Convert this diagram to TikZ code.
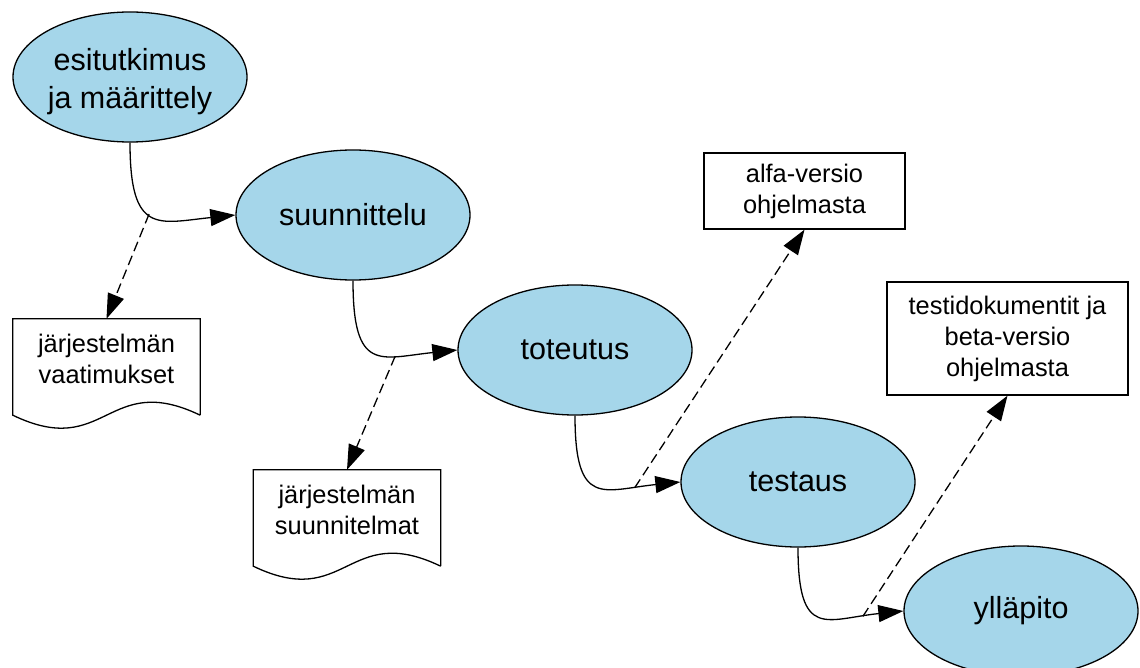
\documentclass[tikz,border=0pt]{standalone}
\usepackage{fontspec}
\setmainfont{Liberation Sans}
\usetikzlibrary{shapes.geometric,arrows.meta,calc}
\definecolor{phasefill}{RGB}{165,214,234}
\tikzset{
  phase/.style={ellipse, draw, fill=phasefill, line width=1.3pt,
    minimum width=234pt, minimum height=130pt, inner sep=0pt, align=center,
    font=\fontsize{30.5}{38}\selectfont},
  product/.style={rectangle, draw, fill=white, line width=1.3pt, inner sep=0pt,
    align=center, font=\fontsize{25.4}{31}\selectfont},
  docframe/.style={rectangle, inner sep=0pt, minimum width=187pt, minimum height=96pt},
  doctext/.style={inner sep=0pt, align=center, font=\fontsize{25.4}{31}\selectfont},
  docline/.style={line width=1.3pt},
  flow/.style={line width=1.3pt, -{Triangle[length=25pt,width=17pt]}},
  yields/.style={line width=1.3pt, dash pattern=on 10pt off 5pt,
    -{Triangle[length=25pt,width=17pt]}},
}
\begin{document}
\begin{tikzpicture}[x=1pt,y=-1pt]
\useasboundingbox (0,0) rectangle (1140,668);

% phases of the process
\node[phase] (p1) at (130,77)  {\rule{0pt}{30.5pt}esitutkimus\\ja määrittely};
\node[phase] (p2) at (353,215) {suunnittelu};
\node[phase] (p3) at (575,350) {toteutus};
\node[phase] (p4) at (798,482) {testaus};
\node[phase] (p5) at (1021,611) {ylläpito};

% plain products
\node[product, minimum width=201pt, minimum height=76pt] (alfa) at (804.5,191)
  {alfa-versio\\ohjelmasta};
\node[product, minimum width=241pt, minimum height=113pt] (beta) at (1007.5,338.5)
  {testidokumentit ja\\beta-versio\\ohjelmasta};

% document products (wavy bottom)
\node[docframe] (d1) at (106.5,367) {};
\node[doctext] (d1t) at ($(d1.center)+(0,-8)$) {järjestelmän\\vaatimukset};
\draw[docline] (d1.south east) -- (d1.north east) -- (d1.north west) -- (d1.south west)
  .. controls +(93.5,45) and +(-93.5,-45) .. (d1.south east);

\node[docframe] (d2) at (347,518) {};
\node[doctext] (d2t) at ($(d2.center)+(0,-8)$) {järjestelmän\\suunnitelmat};
\draw[docline] (d2.south east) -- (d2.north east) -- (d2.north west) -- (d2.south west)
  .. controls +(93.5,45) and +(-93.5,-45) .. (d2.south east);

% phase transitions
\draw[flow] (p1.south) .. controls +(0,93) and +(-77,8) .. (p2.west)
  coordinate[pos=0.45] (m1);
\draw[flow] (p2.south) .. controls +(0,93) and +(-77,8) .. (p3.west)
  coordinate[pos=0.66] (m2);
\draw[flow] (p3.south) .. controls +(0,93) and +(-77,8) .. (p4.west)
  coordinate[pos=0.77] (m3);
\draw[flow] (p4.south) .. controls +(0,93) and +(-77,8) .. (p5.west)
  coordinate[pos=0.80] (m4);

% outputs of each transition
\draw[yields] (m1) -- (d1.north);
\draw[yields] (m2) -- (d2.north);
\draw[yields] (m3) -- (alfa.south);
\draw[yields] (m4) -- (beta.south);
\end{tikzpicture}
\end{document}
